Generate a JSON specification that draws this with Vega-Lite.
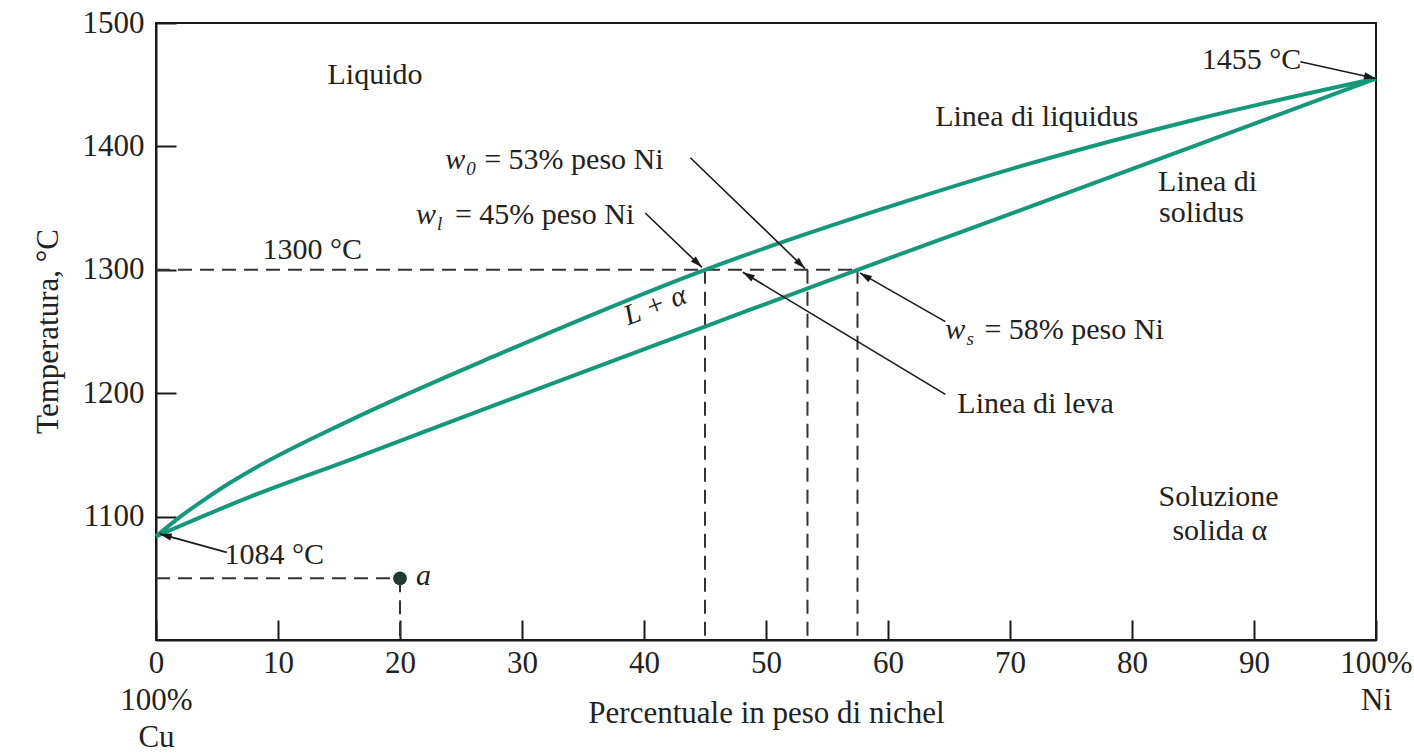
{
  "$schema": "https://vega.github.io/schema/vega-lite/v6.json",
  "width": 1220,
  "height": 617,
  "autosize": {"type": "none"},
  "padding": {"left": 156, "top": 23, "right": 38, "bottom": 114},
  "background": "white",
  "config": {
    "view": {"stroke": "#1a1a1a", "strokeWidth": 2},
    "font": "Liberation Serif",
    "text": {"font": "Liberation Serif", "fontSize": 30, "color": "#222222", "baseline": "middle", "align": "center"}
  },
  "datasets": {
    "curves": [
      {"curve": "liquidus", "ni": 0, "t": 1084},
      {"curve": "liquidus", "ni": 2, "t": 1100},
      {"curve": "liquidus", "ni": 4, "t": 1114},
      {"curve": "liquidus", "ni": 6, "t": 1127},
      {"curve": "liquidus", "ni": 7.7, "t": 1137},
      {"curve": "liquidus", "ni": 15.9, "t": 1178},
      {"curve": "liquidus", "ni": 28.2, "t": 1232},
      {"curve": "liquidus", "ni": 45, "t": 1300},
      {"curve": "liquidus", "ni": 61, "t": 1354},
      {"curve": "liquidus", "ni": 71.6, "t": 1386},
      {"curve": "liquidus", "ni": 85.3, "t": 1422},
      {"curve": "liquidus", "ni": 100, "t": 1455},
      {"curve": "solidus", "ni": 0, "t": 1084},
      {"curve": "solidus", "ni": 7.7, "t": 1116},
      {"curve": "solidus", "ni": 15.9, "t": 1146},
      {"curve": "solidus", "ni": 28.2, "t": 1192},
      {"curve": "solidus", "ni": 45, "t": 1254},
      {"curve": "solidus", "ni": 57.5, "t": 1300},
      {"curve": "solidus", "ni": 71.6, "t": 1351},
      {"curve": "solidus", "ni": 85.3, "t": 1401},
      {"curve": "solidus", "ni": 100, "t": 1455}
    ],
    "guides": [
      {"ni": 0, "t": 1300, "ni2": 57.5, "t2": 1300},
      {"ni": 45, "t": 1300, "ni2": 45, "t2": 1000},
      {"ni": 53.4, "t": 1300, "ni2": 53.4, "t2": 1000},
      {"ni": 57.5, "t": 1300, "ni2": 57.5, "t2": 1000},
      {"ni": 0, "t": 1050, "ni2": 20, "t2": 1050},
      {"ni": 20, "t": 1050, "ni2": 20, "t2": 1000}
    ],
    "arrows": [
      {"ni": 93.8, "t": 1468.6, "ni2": 100, "t2": 1455, "dir": 103},
      {"ni": 5.8, "t": 1071, "ni2": 0.3, "t2": 1086, "dir": 285},
      {"ni": 43.8, "t": 1390.8, "ni2": 53.2, "t2": 1301, "dir": 134},
      {"ni": 40.1, "t": 1346, "ni2": 44.75, "t2": 1302, "dir": 134},
      {"ni": 64.7, "t": 1258, "ni2": 57.7, "t2": 1297.5, "dir": 301},
      {"ni": 64.7, "t": 1199, "ni2": 48.1, "t2": 1298, "dir": 301}
    ],
    "labels": [
      {"ni": 17.95, "t": 1458, "label": "Liquido"},
      {"ni": 72.2, "t": 1424, "label": "Linea di liquidus"},
      {"ni": 86.2, "t": 1371, "label": "Linea di"},
      {"ni": 85.7, "t": 1346, "label": "solidus"},
      {"ni": 12.8, "t": 1316, "label": "1300 °C"},
      {"ni": 89.8, "t": 1470, "label": "1455 °C"},
      {"ni": 9.7, "t": 1069, "label": "1084 °C"},
      {"ni": 72.1, "t": 1191, "label": "Linea di leva"},
      {"ni": 87.1, "t": 1116, "label": "Soluzione"},
      {"ni": 87.2, "t": 1088.5, "label": "solida α"}
    ],
    "wlabels": [
      {"ni": 26.9, "t": 1389, "sub": "0", "rest": "= 53% peso Ni"},
      {"ni": 24.5, "t": 1344.4, "sub": "l", "rest": "= 45% peso Ni"},
      {"ni": 67.9, "t": 1251.5, "sub": "s", "rest": "= 58% peso Ni"}
    ],
    "points": [
      {"ni": 20, "t": 1050, "label": "a"}
    ],
    "phase": [
      {"ni": 40.9, "t": 1271, "label": "L + α"}
    ]
  },
  "layer": [
    {
      "data": {"name": "guides"},
      "mark": {"type": "rule", "stroke": "#333333", "strokeWidth": 2, "strokeDash": [14, 8]},
      "encoding": {
        "x": {"field": "ni", "type": "quantitative", "scale": {"domain": [0, 100], "nice": false, "zero": false},
          "axis": {
            "values": [0, 10, 20, 30, 40, 50, 60, 70, 80, 90, 100],
            "labelExpr": "datum.value == 0 ? ['0', '100%', 'Cu'] : datum.value == 100 ? ['100%', 'Ni'] : datum.label",
            "labelFont": "Liberation Serif", "labelFontSize": 31, "labelColor": "#222222",
            "labelLineHeight": 37, "labelPadding": 28, "labelFlush": false, "labelOverlap": false,
            "tickSize": -20, "tickColor": "#1a1a1a", "tickWidth": 2,
            "domainColor": "#1a1a1a", "domainWidth": 2, "grid": false,
            "title": "Percentuale in peso di nichel", "titleFont": "Liberation Serif", "titleFontSize": 31,
            "titleFontWeight": "normal", "titleColor": "#222222", "titleY": 73, "titleX": 610, "titleBaseline": "middle"
          }},
        "y": {"field": "t", "type": "quantitative", "scale": {"domain": [1000, 1500], "nice": false, "zero": false},
          "axis": {
            "values": [1100, 1200, 1300, 1400, 1500],
            "format": "d",
            "labelFont": "Liberation Serif", "labelFontSize": 31, "labelColor": "#222222",
            "labelPadding": 32, "labelFlush": false, "labelOverlap": false,
            "tickSize": -20, "tickColor": "#1a1a1a", "tickWidth": 2,
            "domainColor": "#1a1a1a", "domainWidth": 2, "grid": false,
            "title": "Temperatura, °C", "titleFont": "Liberation Serif", "titleFontSize": 31,
            "titleFontWeight": "normal", "titleColor": "#222222", "titleX": -108, "titleY": 308,
            "titleAngle": -90, "titleBaseline": "middle", "titleAlign": "center"
          }},
        "x2": {"field": "ni2"},
        "y2": {"field": "t2"}
      }
    },
    {
      "data": {"name": "curves"},
      "mark": {"type": "line", "stroke": "#14987a", "strokeWidth": 4, "interpolate": "monotone"},
      "encoding": {
        "x": {"field": "ni", "type": "quantitative"},
        "y": {"field": "t", "type": "quantitative"},
        "detail": {"field": "curve"}
      }
    },
    {
      "data": {"name": "arrows"},
      "mark": {"type": "rule", "stroke": "#1a1a1a", "strokeWidth": 1.6},
      "encoding": {
        "x": {"field": "ni", "type": "quantitative"},
        "y": {"field": "t", "type": "quantitative"},
        "x2": {"field": "ni2"},
        "y2": {"field": "t2"}
      }
    },
    {
      "data": {"name": "arrows"},
      "mark": {"type": "point", "shape": "M0,0L-0.3,1L0.3,1Z", "filled": true, "fill": "#1a1a1a", "strokeWidth": 0, "opacity": 1, "size": 576},
      "encoding": {
        "x": {"field": "ni2", "type": "quantitative"},
        "y": {"field": "t2", "type": "quantitative"},
        "angle": {"field": "dir", "type": "quantitative", "scale": null}
      }
    },
    {
      "data": {"name": "points"},
      "mark": {"type": "point", "shape": "circle", "filled": true, "fill": "#1d3b31", "opacity": 1, "size": 190},
      "encoding": {
        "x": {"field": "ni", "type": "quantitative"},
        "y": {"field": "t", "type": "quantitative"}
      }
    },
    {
      "data": {"name": "points"},
      "mark": {"type": "text", "fontStyle": "italic", "align": "left", "dx": 16, "dy": -2},
      "encoding": {
        "x": {"field": "ni", "type": "quantitative"},
        "y": {"field": "t", "type": "quantitative"},
        "text": {"field": "label"}
      }
    },
    {
      "data": {"name": "labels"},
      "mark": {"type": "text"},
      "encoding": {
        "x": {"field": "ni", "type": "quantitative"},
        "y": {"field": "t", "type": "quantitative"},
        "text": {"field": "label"}
      }
    },
    {
      "data": {"name": "phase"},
      "mark": {"type": "text", "fontStyle": "italic", "angle": -21, "fontSize": 29},
      "encoding": {
        "x": {"field": "ni", "type": "quantitative"},
        "y": {"field": "t", "type": "quantitative"},
        "text": {"field": "label"}
      }
    },
    {
      "data": {"name": "wlabels"},
      "mark": {"type": "text", "fontStyle": "italic", "align": "right", "dx": -19},
      "encoding": {
        "x": {"field": "ni", "type": "quantitative"},
        "y": {"field": "t", "type": "quantitative"},
        "text": {"value": "w"}
      }
    },
    {
      "data": {"name": "wlabels"},
      "mark": {"type": "text", "fontStyle": "italic", "align": "left", "dx": -18, "dy": 9, "fontSize": 19},
      "encoding": {
        "x": {"field": "ni", "type": "quantitative"},
        "y": {"field": "t", "type": "quantitative"},
        "text": {"field": "sub"}
      }
    },
    {
      "data": {"name": "wlabels"},
      "mark": {"type": "text", "align": "left"},
      "encoding": {
        "x": {"field": "ni", "type": "quantitative"},
        "y": {"field": "t", "type": "quantitative"},
        "text": {"field": "rest"}
      }
    }
  ]
}
